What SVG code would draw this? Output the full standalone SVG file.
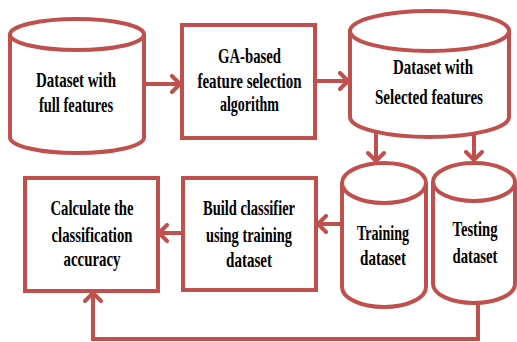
<svg xmlns="http://www.w3.org/2000/svg" width="517" height="342" viewBox="0 0 517 342">
<defs>
<style>
.sh{fill:none;stroke:#c0504d;stroke-width:4}
.bx{fill:#fff;stroke:#c0504d;stroke-width:4}
.cn{fill:none;stroke:#c0504d;stroke-width:4}
text{font-family:"Liberation Serif","Times New Roman",serif;font-weight:bold;font-size:21px;fill:#000;text-anchor:middle}
</style>
<marker id="ah" viewBox="0 0 12 20" refX="10" refY="10" markerWidth="12" markerHeight="20" markerUnits="userSpaceOnUse" orient="auto">
<path d="M2,2 L10,10 L2,18" fill="none" stroke="#c0504d" stroke-width="4" stroke-linecap="round" stroke-linejoin="round"/>
</marker>
</defs>
<rect width="517" height="342" fill="#fff"/>
<g id="connectors">
<line class="cn" x1="144" y1="84" x2="180" y2="84" marker-end="url(#ah)"/>
<line class="cn" x1="315" y1="81" x2="348" y2="81" marker-end="url(#ah)"/>
<line class="cn" x1="376" y1="133" x2="376" y2="161" marker-end="url(#ah)"/>
<line class="cn" x1="474" y1="132" x2="474" y2="160" marker-end="url(#ah)"/>
<line class="cn" x1="342" y1="224" x2="318" y2="224" marker-end="url(#ah)"/>
<line class="cn" x1="183" y1="233" x2="159" y2="233" marker-end="url(#ah)"/>
<polyline class="cn" points="478,302 478,339 93,339 93,293" marker-end="url(#ah)"/>
</g>
<g id="n1">
<path class="bx" d="M10,34.5 V137.5 A67,15.5 0 0 0 144,137.5 V34.5 A67,15.5 0 0 0 10,34.5 Z"/>
<path class="sh" d="M10,34.5 A67,15.5 0 0 0 144,34.5"/>
<g transform="translate(76,0) scale(0.75,1)">
<text x="0" y="87" textLength="106.7" lengthAdjust="spacingAndGlyphs">Dataset with</text>
<text x="0" y="112" textLength="98.7" lengthAdjust="spacingAndGlyphs">full features</text>
</g>
</g>
<g id="n2">
<rect class="bx" x="182" y="25" width="133" height="113"/>
<g transform="translate(249.5,0) scale(0.75,1)">
<text x="0" y="63" textLength="84" lengthAdjust="spacingAndGlyphs">GA-based</text>
<text x="0" y="88" textLength="138.7" lengthAdjust="spacingAndGlyphs">feature selection</text>
<text x="0" y="111" textLength="78.7" lengthAdjust="spacingAndGlyphs">algorithm</text>
</g>
</g>
<g id="n3">
<path class="bx" d="M350,31 V117 A79.5,20 0 0 0 509,117 V31 A79.5,20 0 0 0 350,31 Z"/>
<path class="sh" d="M350,31 A79.5,20 0 0 0 509,31"/>
<g transform="translate(431,0) scale(0.75,1)">
<text x="2.7" y="74" textLength="106.7" lengthAdjust="spacingAndGlyphs">Dataset with</text>
<text x="-2.7" y="104" textLength="144" lengthAdjust="spacingAndGlyphs">Selected features</text>
</g>
</g>
<g id="n4">
<path class="bx" d="M342,183 V287 A42,20 0 0 0 426,287 V183 A42,20 0 0 0 342,183 Z"/>
<path class="sh" d="M342,183 A42,20 0 0 0 426,183"/>
<g transform="translate(383,0) scale(0.75,1)">
<text x="0" y="240" textLength="69.3" lengthAdjust="spacingAndGlyphs">Training</text>
<text x="0" y="265" textLength="61.3" lengthAdjust="spacingAndGlyphs">dataset</text>
</g>
</g>
<g id="n5">
<path class="bx" d="M433,182 V284 A41,19 0 0 0 515,284 V182 A41,19 0 0 0 433,182 Z"/>
<path class="sh" d="M433,182 A41,19 0 0 0 515,182"/>
<g transform="translate(475,0) scale(0.75,1)">
<text x="0" y="236" textLength="60" lengthAdjust="spacingAndGlyphs">Testing</text>
<text x="0" y="263" textLength="60" lengthAdjust="spacingAndGlyphs">dataset</text>
</g>
</g>
<g id="n6">
<rect class="bx" x="183" y="178" width="133" height="112"/>
<g transform="translate(249,0) scale(0.75,1)">
<text x="0" y="215" textLength="122.7" lengthAdjust="spacingAndGlyphs">Build classifier</text>
<text x="0" y="242" textLength="114.7" lengthAdjust="spacingAndGlyphs">using training</text>
<text x="0" y="267" textLength="61.3" lengthAdjust="spacingAndGlyphs">dataset</text>
</g>
</g>
<g id="n7">
<rect class="bx" x="25" y="178" width="133" height="113"/>
<g transform="translate(92,0) scale(0.75,1)">
<text x="0" y="215" textLength="110.7" lengthAdjust="spacingAndGlyphs">Calculate the</text>
<text x="0" y="242" textLength="108" lengthAdjust="spacingAndGlyphs">classification</text>
<text x="0" y="266" textLength="76" lengthAdjust="spacingAndGlyphs">accuracy</text>
</g>
</g>
</svg>
